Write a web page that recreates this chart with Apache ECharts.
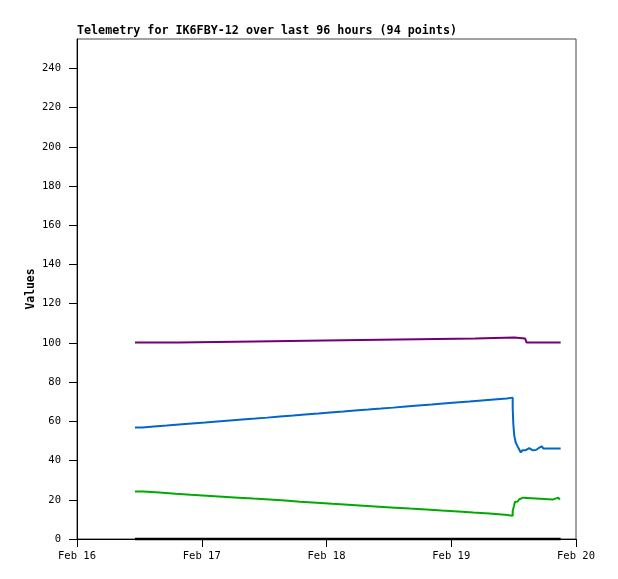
<!DOCTYPE html>
<html>
<head>
<meta charset="utf-8">
<script src="https://cdn.jsdelivr.net/npm/echarts@6/dist/echarts.min.js"></script>
<style>
html,body{margin:0;padding:0;background:#fff;}
#chart{width:618px;height:579px;}
</style>
</head>
<body>
<div id="chart"></div>
<script>
// Hours since Feb 16 00:00
var xTickLabels = ['Feb 16', 'Feb 17', 'Feb 18', 'Feb 19', 'Feb 20'];
var yTickValues = [0, 20, 40, 60, 80, 100, 120, 140, 160, 180, 200, 220, 240];

var purpleTimes = [11.16, 19.52, 34.14, 47.58, 61.94, 76.57, 84.13, 86.19, 86.51, 93.05];
var purpleValues = [100.2, 100.7, 101.2, 101.8, 102.3, 102.8, 102.3, 101.6, 100.2, 100.2];

var blueTimes = [11.16, 12.56, 14.81, 17.26, 19.62, 22.12, 24.63, 26.99, 29.43, 31.80, 34.30, 36.61,
  39.05, 41.61, 43.86, 46.42, 48.67, 51.23, 53.48, 56.04, 58.49, 60.85, 63.29, 65.66, 68.24, 70.47,
  72.91, 75.47, 77.86, 80.22, 82.67, 83.82, 83.94, 84.13, 84.40, 84.72, 85.05, 85.38, 85.70, 86.35,
  86.99, 87.62, 88.28, 88.79, 89.43, 89.72, 93.05];
var blueValues = [56.9, 57.4, 57.9, 58.4, 58.9, 59.4, 59.9, 60.4, 60.9, 61.4, 61.9, 62.5,
  63.0, 63.5, 64.0, 64.5, 65.0, 65.5, 66.0, 66.5, 67.0, 67.6, 68.1, 68.6, 69.1, 69.6,
  70.1, 70.6, 71.1, 71.6, 72.1, 67.0, 58.6, 52.6, 49.2, 47.5, 45.8, 44.1, 45.3, 46.3,
  45.3, 45.4, 46.3, 47.3, 47.0, 46.1, 46.1];

var greenTimes = [11.16, 12.76, 15.84, 18.99, 21.88, 24.96, 28.03, 31.04, 33.92, 37.00, 40.01, 42.90,
  46.11, 49.11, 52.19, 55.08, 58.10, 61.17, 64.06, 67.14, 70.16, 73.35, 76.24, 79.32, 82.34,
  83.82, 84.07, 84.26, 84.72, 85.10, 85.43, 85.86, 91.51, 92.58, 92.90];
var greenValues = [24.2, 23.7, 23.1, 22.6, 22.1, 21.6, 21.1, 20.6, 20.1, 19.6, 19.0, 18.5,
  18.0, 17.5, 17.0, 16.5, 16.0, 15.5, 15.0, 14.5, 14.0, 13.5, 13.0, 12.4, 11.9,
  14.3, 16.8, 19.0, 19.9, 20.3, 21.1, 20.1, 21.1, 20.6, 20.1];

var blackTimes = [11.16, 93.05];
var blackValues = [0, 0];

function pairs(t, v) { return t.map(function (x, i) { return [x, v[i]]; }); }

var chart = echarts.init(document.getElementById('chart'), null, {renderer: 'canvas'});
var mono = 'DejaVu Sans Mono';
function lineSeries(t, v, color, w) {
  return {
    type: 'line', data: pairs(t, v), step: 'end', symbol: 'none', clip: false,
    lineStyle: {color: color, width: w}, animation: false
  };
}
chart.setOption({
  animation: false,
  backgroundColor: '#ffffff',
  title: {
    text: 'Telemetry for IK6FBY-12 over last 96 hours (94 points)',
    left: 77, top: 25, padding: 0,
    textStyle: {fontFamily: mono, fontSize: 11.7, fontWeight: 'bold', color: '#000'}
  },
  grid: {left: 77, right: 42, top: 39, bottom: 40, show: true, borderColor: '#444', borderWidth: 1, backgroundColor: 'transparent'},
  xAxis: {
    type: 'value', min: 0, max: 96, interval: 24,
    axisLine: {show: true, onZero: false, lineStyle: {color: '#000', width: 1}},
    axisTick: {show: true, length: 8, lineStyle: {color: '#000'}},
    splitLine: {show: false},
    axisLabel: {
      margin: 12, color: '#000', fontFamily: mono, fontSize: 10.5,
      formatter: function (v) { return xTickLabels[Math.round(v / 24)]; }
    }
  },
  yAxis: {
    type: 'value', min: 0, max: 255,
    name: 'Values', nameLocation: 'middle', nameGap: 40, nameMoveOverlap: false,
    nameTextStyle: {fontFamily: mono, fontSize: 11.4, fontWeight: 'bold', color: '#000'},
    axisLine: {show: true, lineStyle: {color: '#000', width: 1}},
    axisTick: {show: true, length: 8, lineStyle: {color: '#000'}, customValues: yTickValues},
    splitLine: {show: false},
    axisLabel: {margin: 16, color: '#000', fontFamily: mono, fontSize: 10.5, customValues: yTickValues}
  },
  series: [
    lineSeries(blackTimes, blackValues, '#000000', 2.5),
    lineSeries(greenTimes, greenValues, '#00aa00', 2),
    lineSeries(blueTimes, blueValues, '#0066cc', 2),
    lineSeries(purpleTimes, purpleValues, '#720072', 2)
  ]
});
</script>
</body>
</html>
